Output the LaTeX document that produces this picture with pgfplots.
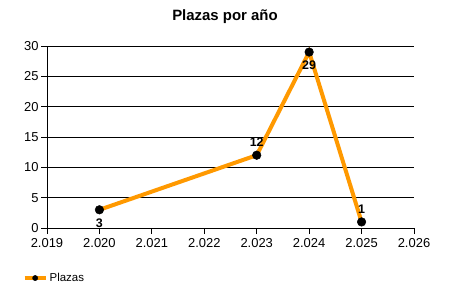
\documentclass[border=0pt]{standalone}
\usepackage{pgfplots}
\pgfplotsset{compat=1.18}
\usepackage{fontspec}
\setmainfont{Liberation Sans}
\definecolor{lineor}{RGB}{255,153,0}
\begin{document}
\begin{tikzpicture}
\path[use as bounding box] (0,0) rectangle (450bp,300bp);
\begin{axis}[
  at={(47bp,72bp)}, anchor=south west,
  scale only axis, width=367bp, height=182bp,
  xmin=2019, xmax=2026, ymin=0, ymax=30,
  xtick={2019,2020,2021,2022,2023,2024,2025,2026},
  xticklabels={2.019,2.020,2.021,2.022,2.023,2.024,2.025,2.026},
  ytick={0,5,10,15,20,25,30},
  axis x line*=bottom, axis y line*=left,
  axis line style={black, line width=0.8bp},
  tick align=outside, major tick length=6bp,
  tick style={black, line width=0.8bp},
  ymajorgrids, grid style={black, line width=0.8bp},
  tick label style={font=\fontsize{13}{15}\selectfont},
  /pgf/number format/assume math mode=true,
  xticklabel style={yshift=-1bp},
  yticklabel style={xshift=1bp},
  title={Plazas por año},
  title style={font=\bfseries\fontsize{15}{17}\selectfont, at={(axis description cs:0.485,1.13)}, anchor=center},
  legend style={draw=none, fill=none, at={(axis description cs:-0.075,-0.275)}, anchor=west,
    font=\fontsize{11.5}{13}\selectfont},
  legend image code/.code={\draw[#1, mark repeat=2, mark phase=2] plot coordinates {(0bp,0bp) (10.5bp,0bp) (21bp,0bp)};},
  legend image post style={mark size=2.6bp},
  clip=false,
]
\addplot[color=lineor, line width=4bp, mark=*, mark size=4.3bp, mark options={draw=black, fill=black, line width=0.5bp}]
  coordinates {(2020,3) (2023,12) (2024,29) (2025,1)};
\addlegendentry{Plazas}
\addplot[draw=none, forget plot, nodes near coords, point meta=explicit symbolic,
  every node near coord/.append style={anchor=center, yshift=-13bp, font=\bfseries\fontsize{12.5}{14}\selectfont}]
  coordinates {(2020,3) [3] (2024,29) [29]};
\addplot[draw=none, forget plot, nodes near coords, point meta=explicit symbolic,
  every node near coord/.append style={anchor=center, yshift=13bp, font=\bfseries\fontsize{12.5}{14}\selectfont}]
  coordinates {(2023,12) [12] (2025,1) [1]};
\end{axis}
\end{tikzpicture}
\end{document}
